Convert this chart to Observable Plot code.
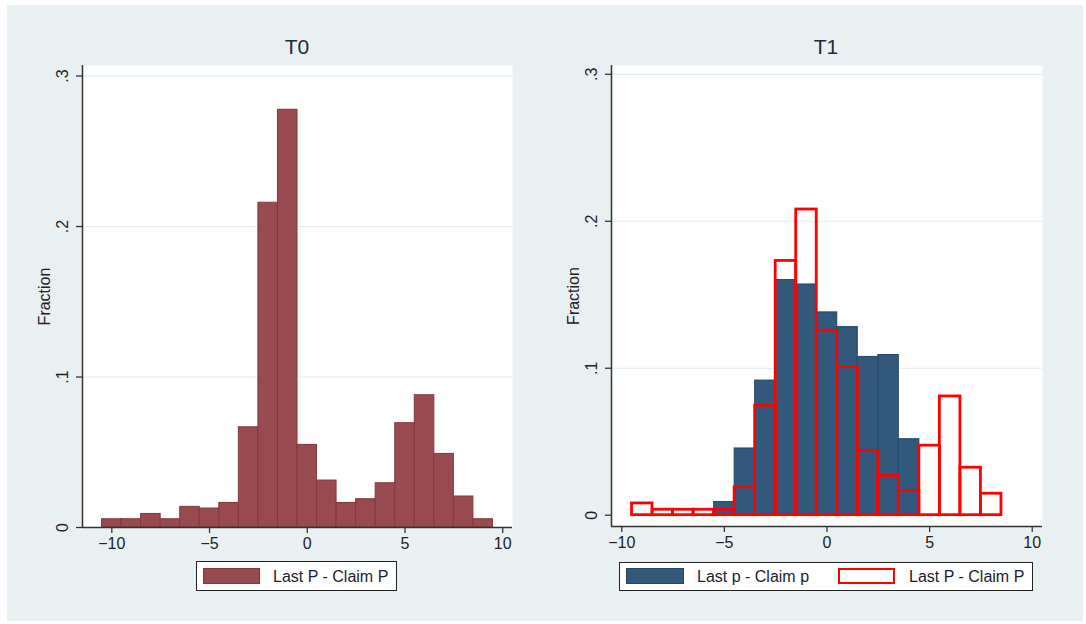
<!DOCTYPE html>
<html><head><meta charset="utf-8">
<script src="https://cdn.jsdelivr.net/npm/d3@7"></script>
<script src="https://cdn.jsdelivr.net/npm/@observablehq/plot@0.6"></script>
<style>
html,body{margin:0;padding:0;background:#fff;}
#root{position:relative;width:1086px;height:624px;overflow:hidden;font-family:"Liberation Sans",Arial,sans-serif;}
#bg{position:absolute;left:7px;top:5px;width:1076px;height:616px;background:#e8f0f2;}
.panel{position:absolute;left:0;top:0;}
.title{position:absolute;top:36px;font-size:21px;line-height:22px;color:#1d2a40;transform:translateX(-50%);white-space:nowrap;}
.legend{position:absolute;background:#fff;border:1.5px solid #222;box-sizing:border-box;}
.sw{position:absolute;box-sizing:border-box;}
.lt{position:absolute;font-size:16px;line-height:16px;color:#1c1c30;white-space:nowrap;}
</style>
</head><body>
<div id="root"><div id="bg"></div></div>
<script>
// ---- data ----
const xTicks = [-10, -5, 0, 5, 10];
const yTicks = [0, 0.1, 0.2, 0.3];
const yTickLabels = ["0", ".1", ".2", ".3"];

const t0Bins = [-10, -9, -8, -7, -6, -5, -4, -3, -2, -1, 0, 1, 2, 3, 4, 5, 6, 7, 8, 9];
const t0Frac = [0.0055, 0.0055, 0.009, 0.0055, 0.0137, 0.0126, 0.0163, 0.0666, 0.2158, 0.2776,
                0.0549, 0.0312, 0.0163, 0.0188, 0.0294, 0.0693, 0.0879, 0.0489, 0.0206, 0.0055];

const t1pBins = [-5, -4, -3, -2, -1, 0, 1, 2, 3, 4];
const t1pFrac = [0.009, 0.0454, 0.0916, 0.160, 0.157, 0.138, 0.128, 0.1077, 0.109, 0.0517];

const t1PBins = [-9, -8, -7, -6, -5, -4, -3, -2, -1, 0, 1, 2, 3, 4, 5, 6, 7, 8];
const t1PFrac = [0.008, 0.0037, 0.0037, 0.0037, 0.0037, 0.019, 0.0745, 0.173, 0.208, 0.1255,
                 0.1008, 0.0437, 0.0267, 0.0165, 0.0473, 0.0808, 0.0323, 0.0146];

const titles = ["T0", "T1"];
const legendT0 = ["Last P - Claim P"];
const legendT1 = ["Last p - Claim p", "Last P - Claim P"];

// ---- drawing ----
const rows = (bins, fr) => bins.map((b, i) => ({b, f: fr[i]}));
const root = document.getElementById("root");
const FONT = "'Liberation Sans', Arial, sans-serif";

function panel({margins, xDomain, yDomain, bars}) {
  const [mt, mr, mb, ml] = margins;
  const p = Plot.plot({
    width: 1086, height: 624,
    marginTop: mt, marginRight: mr, marginBottom: mb, marginLeft: ml,
    x: {domain: xDomain},
    y: {domain: yDomain},
    style: {background: "transparent", fontFamily: FONT, fontSize: "16px", color: "#222", overflow: "visible"},
    marks: [
      Plot.frame({fill: "white", stroke: null}),
      Plot.gridY(yTicks.slice(1), {stroke: "#e2ebee", strokeOpacity: 1, strokeWidth: 1.2}),
      ...bars,
      Plot.axisX({ticks: xTicks, tickSize: 6, tickPadding: 4, fontSize: 16, stroke: "#333", strokeWidth: 1.3, label: null}),
      Plot.axisY({ticks: yTicks, tickFormat: d => yTickLabels[yTicks.indexOf(d)], tickRotate: -90,
                  tickSize: 6, tickPadding: 9, fontSize: 16, stroke: "#333", strokeWidth: 1.3,
                  label: "Fraction", labelAnchor: "center", labelArrow: "none", labelOffset: 44}),
      Plot.ruleX([xDomain[0]], {stroke: "#333", strokeWidth: 1.5}),
      Plot.ruleY([yDomain[0]], {stroke: "#333", strokeWidth: 1.5})
    ]
  });
  p.classList.add("panel");
  root.appendChild(p);
}

panel({
  margins: [65, 574, 97, 82],
  xDomain: [-11.5, 10.5],
  yDomain: [0, 0.307],
  bars: [
    Plot.rect(rows(t0Bins, t0Frac), {x1: d => d.b - 0.5, x2: d => d.b + 0.5, y1: 0, y2: "f",
      fill: "#984a4f", stroke: "#85363c", strokeWidth: 1})
  ]
});

panel({
  margins: [65, 44, 98, 611],
  xDomain: [-10.5, 10.5],
  yDomain: [-0.0077, 0.306],
  bars: [
    Plot.rect(rows(t1pBins, t1pFrac), {x1: d => d.b - 0.5, x2: d => d.b + 0.5, y1: 0, y2: "f",
      fill: "#32587c", stroke: "#244866", strokeWidth: 1}),
    Plot.rect(rows(t1PBins, t1PFrac), {x1: d => d.b - 0.5, x2: d => d.b + 0.5, y1: 0, y2: "f",
      fill: "none", stroke: "#ff0000", strokeWidth: 2.8})
  ]
});

// titles
function addDiv(cls, style, text) {
  const d = document.createElement("div");
  d.className = cls;
  Object.assign(d.style, style);
  if (text != null) d.textContent = text;
  root.appendChild(d);
  return d;
}
addDiv("title", {left: "297px"}, titles[0]);
addDiv("title", {left: "826px"}, titles[1]);

// legends
addDiv("legend", {left: "196px", top: "561px", width: "201px", height: "30px"});
addDiv("sw", {left: "203px", top: "568px", width: "57px", height: "16px", background: "#984a4f", border: "1px solid #85363c"});
addDiv("lt", {left: "273px", top: "569px"}, legendT0[0]);

addDiv("legend", {left: "619px", top: "562px", width: "414px", height: "29px"});
addDiv("sw", {left: "626px", top: "568px", width: "58px", height: "16px", background: "#32587c", border: "1px solid #244866"});
addDiv("lt", {left: "697px", top: "569px"}, legendT1[0]);
addDiv("sw", {left: "838px", top: "568px", width: "57px", height: "16px", background: "#fff", border: "2.5px solid #ff0000"});
addDiv("lt", {left: "909px", top: "569px"}, legendT1[1]);
</script>
</body></html>
